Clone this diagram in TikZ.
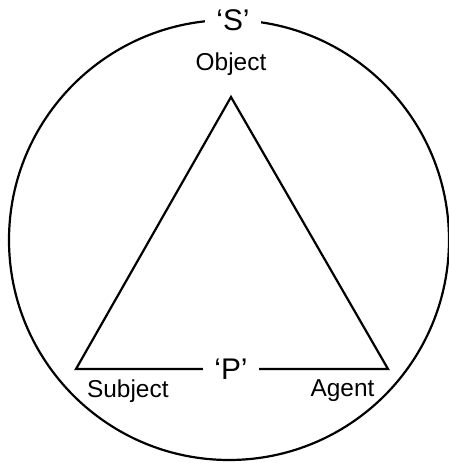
\documentclass[tikz,border=0pt]{standalone}
\usepackage{fontspec}
\setmainfont{Liberation Sans}
\usetikzlibrary{positioning}
\tikzset{
  corner/.style={inner sep=0pt, font=\fontsize{13.9}{16}\selectfont},
  mark label/.style={fill=white, inner xsep=0.22cm, inner ysep=1pt, font=\fontsize{17}{20}\selectfont}
}

\begin{document}
\begin{tikzpicture}[line width=1.25pt]
  \useasboundingbox (0,0) rectangle (8.98,9.26);
  \node[circle, draw, minimum size=8.8cm, inner sep=0pt] (c) at (4.58,4.46) {};
  \coordinate (o) at (4.62,7.32);
  \coordinate (s) at (1.52,1.88);
  \coordinate (a) at (7.76,1.88);
  \draw[line join=miter] (o) -- (s) -- (a) -- cycle;
  \node[mark label] (S) at (4.66,8.86) {‘S’};
  \node[mark label] (P) at (4.62,1.88) {‘P’};
  \node[corner, above=0.4cm of o] (obj) {Object};
  \node[corner, below right=2mm and 2mm of s] (subj) {Subject};
  \node[corner, below left=2mm and 2.5mm of a] (agt) {Agent};
\end{tikzpicture}
\end{document}
